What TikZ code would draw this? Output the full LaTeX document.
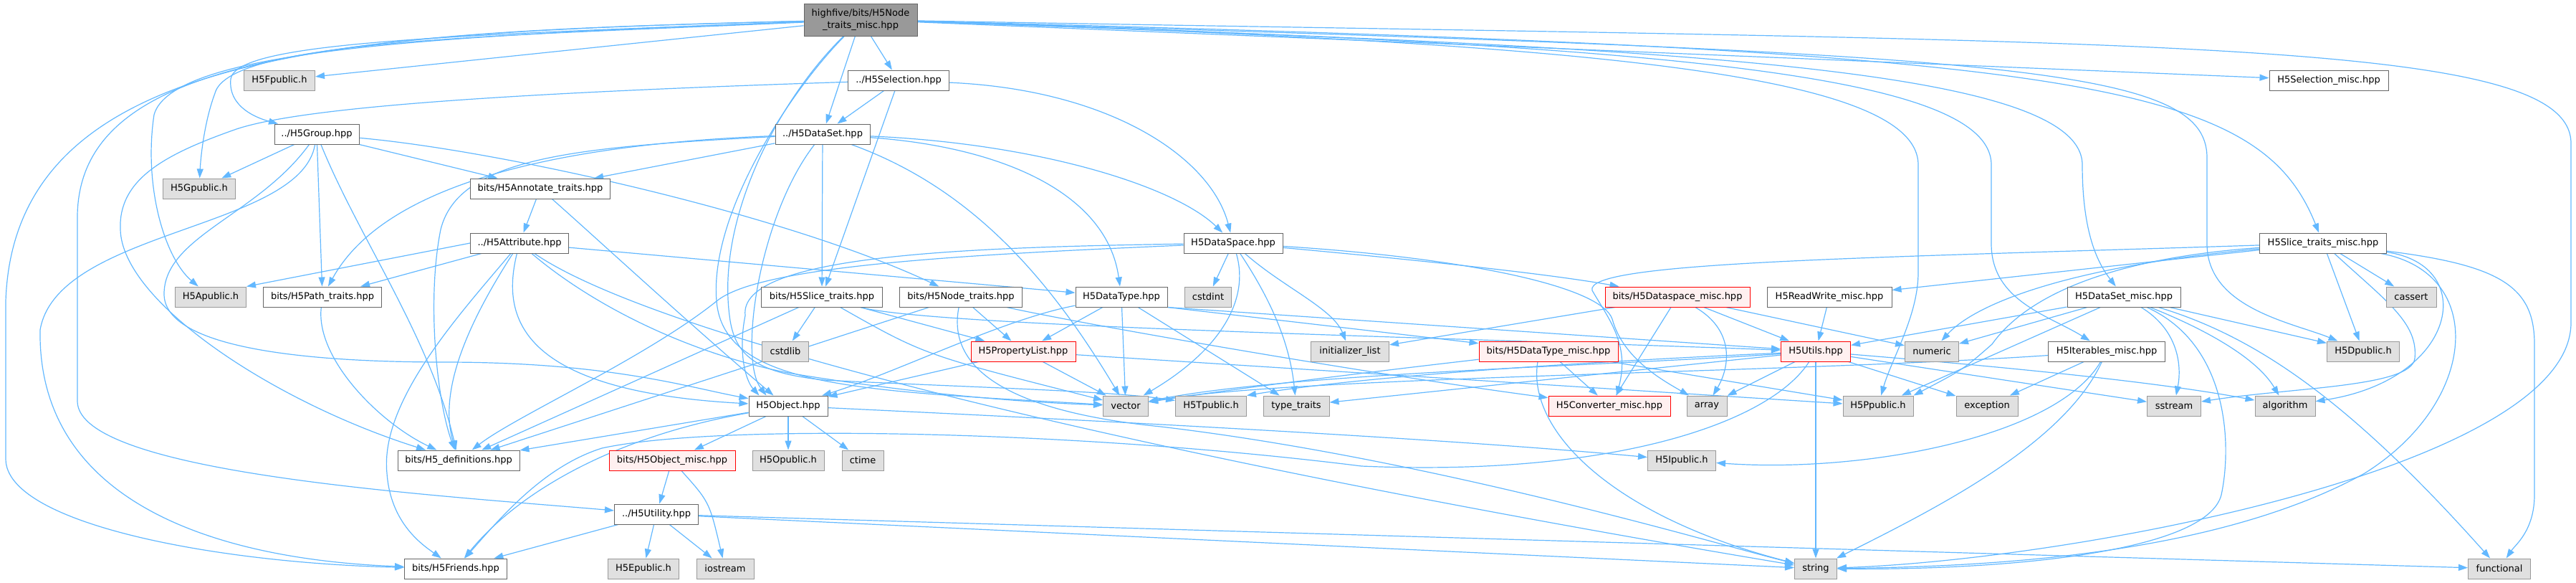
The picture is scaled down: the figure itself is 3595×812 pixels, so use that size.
\documentclass[tikz,border=0pt]{standalone}
\usepackage{fontspec}
\setmainfont{DejaVu Sans}
\usetikzlibrary{arrows.meta}
\definecolor{edgec}{HTML}{63B8FF}
\definecolor{gfill}{HTML}{E0E0E0}
\definecolor{gdraw}{HTML}{999999}
\definecolor{ndraw}{HTML}{666666}
\definecolor{rfill}{HTML}{FFF0F0}
\definecolor{rdraw}{HTML}{FF0000}
\definecolor{rootfill}{HTML}{999999}
\pgfdeclarelayer{bg}
\pgfsetlayers{bg,main}
\tikzset{
 nbox/.style={draw=ndraw,fill=white,line width=1pt,minimum height=28pt,inner sep=0pt,font=\fontsize{13}{17}\selectfont,text=black},
 ext/.style={nbox,fill=gfill,draw=gdraw},
 trunc/.style={nbox,fill=rfill,draw=rdraw},
 edg/.style={draw=edgec,line width=1.2pt,-{Triangle[length=13pt,width=9pt]}}
}
\begin{document}
\begin{tikzpicture}[x=1pt,y=-1pt]
\useasboundingbox (0,0) rectangle (3595,812);
% ---------- nodes ----------
\node[nbox,fill=rootfill,minimum width=158pt,minimum height=45pt,align=center] (R) at (1201,27.5) {highfive/bits/H5Node\\\_traits\_misc.hpp};
\node[ext,minimum width=99pt] (Fpub) at (390,112) {H5Fpublic.h};
\node[nbox,minimum width=141pt] (Sel) at (1254,112) {../H5Selection.hpp};
\node[nbox,minimum width=166pt] (Selmisc) at (3250,112) {H5Selection\_misc.hpp};
\node[nbox,minimum width=118pt] (Group) at (442,187) {../H5Group.hpp};
\node[nbox,minimum width=132pt] (DataSet) at (1148,187) {../H5DataSet.hpp};
\node[ext,minimum width=101pt] (Gpub) at (278,263) {H5Gpublic.h};
\node[nbox,minimum width=195pt] (Annot) at (754,263) {bits/H5Annotate\_traits.hpp};
\node[nbox,minimum width=137pt] (Attr) at (725,339) {../H5Attribute.hpp};
\node[nbox,minimum width=138pt] (DSpace) at (1721,339) {H5DataSpace.hpp};
\node[nbox,minimum width=177pt] (SliceMisc) at (3242,339) {H5Slice\_traits\_misc.hpp};
\node[ext,minimum width=99pt] (Apub) at (294,414) {H5Apublic.h};
\node[nbox,minimum width=165pt] (Path) at (450,414) {bits/H5Path\_traits.hpp};
\node[nbox,minimum width=169pt] (Slice) at (1147,414) {bits/H5Slice\_traits.hpp};
\node[nbox,minimum width=171pt] (Nodet) at (1341,414) {bits/H5Node\_traits.hpp};
\node[nbox,minimum width=128pt] (DType) at (1565,414) {H5DataType.hpp};
\node[ext,minimum width=65pt] (cstdint) at (1686,414) {cstdint};
\node[trunc,minimum width=202pt] (DSmisc) at (2341,414) {bits/H5Dataspace\_misc.hpp};
\node[nbox,minimum width=174pt] (RW) at (2553,414) {H5ReadWrite\_misc.hpp};
\node[nbox,minimum width=158pt] (DSetmisc) at (2964,414) {H5DataSet\_misc.hpp};
\node[ext,minimum width=70pt] (cassert) at (3365,414) {cassert};
\node[ext,minimum width=65pt] (cstdlib) at (1096,490) {cstdlib};
\node[trunc,minimum width=146pt] (PList) at (1428,490) {H5PropertyList.hpp};
\node[ext,minimum width=109pt] (initl) at (1884,490) {initializer\_list};
\node[trunc,minimum width=194pt] (DTmisc) at (2161,490) {bits/H5DataType\_misc.hpp};
\node[trunc,minimum width=97pt] (Utils) at (2534,490) {H5Utils.hpp};
\node[ext,minimum width=75pt] (numeric) at (2696,490) {numeric};
\node[nbox,minimum width=163pt] (Iter) at (2940,490) {H5Iterables\_misc.hpp};
\node[ext,minimum width=101pt] (Dpub) at (3298,490) {H5Dpublic.h};
\node[nbox,minimum width=110pt] (Object) at (1100,566) {H5Object.hpp};
\node[ext,minimum width=63pt] (vector) at (1571,566) {vector};
\node[ext,minimum width=99pt] (Tpub) at (1690,566) {H5Tpublic.h};
\node[ext,minimum width=92pt] (typetr) at (1809,566) {type\_traits};
\node[trunc,minimum width=170pt] (Conv) at (2246,566) {H5Converter\_misc.hpp};
\node[ext,minimum width=56pt] (array) at (2382,566) {array};
\node[ext,minimum width=98pt] (Ppub) at (2621,566) {H5Ppublic.h};
\node[ext,minimum width=86pt] (exception) at (2773,566) {exception};
\node[ext,minimum width=75pt] (sstream) at (3034,566) {sstream};
\node[ext,minimum width=84pt] (algorithm) at (3189,566) {algorithm};
\node[nbox,minimum width=170pt] (defs) at (640,642) {bits/H5\_definitions.hpp};
\node[trunc,minimum width=176pt] (Objmisc) at (938,642) {bits/H5Object\_misc.hpp};
\node[ext,minimum width=100pt] (Opub) at (1100,642) {H5Opublic.h};
\node[ext,minimum width=58pt] (ctime) at (1204,642) {ctime};
\node[ext,minimum width=95pt] (Ipub) at (2347,642) {H5Ipublic.h};
\node[nbox,minimum width=117pt] (Utility) at (916,717) {../H5Utility.hpp};
\node[nbox,minimum width=143pt] (Friends) at (636,793) {bits/H5Friends.hpp};
\node[ext,minimum width=99pt] (Epub) at (898,793) {H5Epublic.h};
\node[ext,minimum width=80pt] (iostream) at (1012,793) {iostream};
\node[ext,minimum width=59pt] (string) at (2534,793) {string};
\node[ext,minimum width=87pt] (functional) at (3488,793) {functional};
% ---------- edges ----------
\begin{pgfonlayer}{bg}
% root
\draw[edg] (R) -- (Fpub);
\draw[edg] (R) -- (Sel);
\draw[edg] (R) -- (Selmisc);
\draw[edg] (R) -- (DataSet);
\draw[edg] (R) .. controls (600,50) and (330,60) .. (322,110) .. controls (318,150) and (360,165) .. (Group);
\draw[edg] (R) .. controls (700,50) and (320,55) .. (300,130) .. controls (285,170) and (280,220) .. (Gpub);
\draw[edg] (R) .. controls (600,50) and (240,70) .. (215,160) .. controls (200,260) and (230,360) .. (Apub);
\draw[edg] (R) .. controls (500,45) and (20,60) .. (8,420) -- (8,640) .. controls (8,730) and (300,785) .. (Friends);
\draw[edg] (R) .. controls (450,45) and (112,80) .. (108,300) -- (108,560) .. controls (110,660) and (600,690) .. (Utility);
\draw[edg] (R) .. controls (1100,130) and (990,300) .. (1000,420) .. controls (1010,540) and (1200,545) .. (vector);
\draw[edg] (R) .. controls (1090,135) and (1000,300) .. (1018,440) .. controls (1025,500) and (1060,520) .. (1150,530) .. controls (1350,540) and (1550,545) .. (Tpub);
\draw[edg] (R) .. controls (2300,65) and (2906,90) .. (2906,230) .. controls (2906,330) and (2930,370) .. (DSetmisc);
\draw[edg] (R) .. controls (2300,62) and (2779,100) .. (2779,230) -- (2779,340) .. controls (2779,420) and (2860,440) .. (Iter);
\draw[edg] (R) .. controls (2200,60) and (2677,100) .. (2677,230) -- (2677,380) .. controls (2677,440) and (2640,500) .. (Ppub);
\draw[edg] (R) .. controls (2900,70) and (3150,110) .. (SliceMisc);
\draw[edg] (R) .. controls (2800,75) and (3080,90) .. (3080,220) -- (3080,340) .. controls (3080,430) and (3200,450) .. (Dpub);
\draw[edg] (R) .. controls (3000,60) and (3588,50) .. (3588,200) -- (3588,450) .. controls (3588,650) and (2900,780) .. (string);
% selection
\draw[edg] (Sel) -- (DataSet);
\draw[edg] (Sel) .. controls (1550,125) and (1690,220) .. (DSpace);
\draw[edg] (Sel) -- (Slice);
\draw[edg] (Sel) .. controls (700,130) and (420,150) .. (330,180) .. controls (230,215) and (165,250) .. (168,320) .. controls (170,420) and (380,560) .. (defs);
% group
\draw[edg] (Group) -- (Gpub);
\draw[edg] (Group) -- (Path);
\draw[edg] (Group) -- (Annot);
\draw[edg] (Group) .. controls (700,210) and (1100,300) .. (Nodet);
\draw[edg] (Group) .. controls (360,300) and (229,330) .. (229,410) .. controls (229,480) and (400,505) .. (620,505) .. controls (850,505) and (960,540) .. (Object);
\draw[edg] (Group) .. controls (420,320) and (80,320) .. (56,460) .. controls (52,700) and (300,780) .. (Friends);
\draw[edg] (Group) .. controls (500,330) and (600,470) .. (defs);
% dataset
\draw[edg] (DataSet) -- (Annot);
\draw[edg] (DataSet) -- (Slice);
\draw[edg] (DataSet) .. controls (1450,200) and (1640,260) .. (DSpace);
\draw[edg] (DataSet) .. controls (1400,205) and (1545,270) .. (DType);
\draw[edg] (DataSet) .. controls (1060,300) and (1030,500) .. ([xshift=25pt]Object.north west);
\draw[edg] (DataSet) .. controls (1350,260) and (1460,380) .. (vector);
\draw[edg] (DataSet) .. controls (800,200) and (540,250) .. (Path);
\draw[edg] (DataSet) .. controls (800,205) and (640,220) .. (615,320) .. controls (595,420) and (610,560) .. (defs);
% annotate / attribute / path
\draw[edg] (Annot) -- (Attr);
\draw[edg] (Annot) .. controls (830,330) and (960,450) .. ([xshift=35pt]Object.north west);
\draw[edg] (Attr.west) -- (Apub.north east);
\draw[edg] (Attr) -- (Path);
\draw[edg] (Attr) -- (DType);
\draw[edg] (Attr) .. controls (700,440) and (720,545) .. (Object);
\draw[edg] (Attr) .. controls (640,440) and (530,560) .. (540,660) .. controls (545,730) and (590,760) .. (Friends);
\draw[edg] (Attr) .. controls (660,440) and (610,540) .. (defs);
\draw[edg] (Attr) .. controls (820,420) and (950,490) .. (1100,520) .. controls (1250,545) and (1400,560) .. (vector);
\draw[edg] (Attr) .. controls (900,460) and (1500,620) .. (string);
\draw[edg] (Path) .. controls (440,500) and (530,590) .. (defs);
% slice traits
\draw[edg] (Slice) -- (cstdlib);
\draw[edg] (Slice) -- (defs);
\draw[edg] (Slice) .. controls (1290,495) .. (vector);
\draw[edg] (Slice) -- (PList);
\draw[edg] (Slice) .. controls (1300,455) and (2000,470) .. (Utils);
% node traits
\draw[edg] (Nodet) -- (PList);
\draw[edg] (Nodet) -- (defs);
\draw[edg] (Nodet) .. controls (1320,520) and (1420,575) .. (1620,595) .. controls (2000,640) and (2400,760) .. (string);
\draw[edg] (Nodet) .. controls (1500,450) and (1900,520) .. (Conv);
% datatype
\draw[edg] (DType) -- (PList);
\draw[edg] (DType) -- (vector);
\draw[edg] (DType) -- (typetr);
\draw[edg] (DType) .. controls (1400,445) and (1250,520) .. (Object);
\draw[edg] (DType.south east) -- (DTmisc);
\draw[edg] (DType.south east) -- (Utils);
% dataspace
\draw[edg] (DSpace) -- (cstdint);
\draw[edg] (DSpace) .. controls (1745,420) and (1700,490) .. (vector);
\draw[edg] (DSpace) .. controls (1790,400) and (1860,430) .. (initl);
\draw[edg] (DSpace) .. controls (1775,420) and (1800,480) .. (typetr);
\draw[edg] (DSpace) .. controls (2050,360) and (2235,400) .. (2250,445) .. controls (2265,500) and (2320,530) .. (array);
\draw[edg] (DSpace) .. controls (1950,360) and (2150,380) .. (DSmisc);
\draw[edg] (DSpace) .. controls (1350,345) and (1030,355) .. (1040,440) .. controls (1030,490) and (1040,530) .. ([xshift=15pt]Object.north west);
\draw[edg] (DSpace) .. controls (1350,355) and (1060,370) .. (1000,420) .. controls (900,500) and (720,580) .. (defs);
% property list
\draw[edg] (PList) -- (vector);
\draw[edg] (PList) -- (Object);
\draw[edg] (PList) -- (Ppub);
% dataspace misc
\draw[edg] (DSmisc) -- (initl);
\draw[edg] (DSmisc) -- (Conv);
\draw[edg] (DSmisc) .. controls (2420,460) and (2415,510) .. (array);
\draw[edg] (DSmisc) -- (Utils);
\draw[edg] (DSmisc) -- (numeric);
% datatype misc
\draw[edg] (DTmisc) -- (Conv);
\draw[edg] ([xshift=-15pt]DTmisc.south) .. controls (2130,600) and (2250,720) .. (string);
\draw[edg] (DTmisc) .. controls (1900,520) and (1700,545) .. (vector);
\draw[edg] (DTmisc) -- (Ppub);
% readwrite
\draw[edg] (RW) -- (Utils);
% utils
\draw[edg] (Utils) -- (string);
\draw[edg] (Utils) -- (exception);
\draw[edg] (Utils) -- (sstream);
\draw[edg] (Utils) .. controls (2900,520) and (3050,540) .. (algorithm);
\draw[edg] (Utils) -- (array);
\draw[edg] (Utils) -- (typetr);
\draw[edg] (Utils) .. controls (2200,505) and (1900,525) .. (Tpub.north east);
\draw[edg] (Utils) .. controls (2250,510) and (1800,520) .. (vector);
\draw[edg] (Utils) .. controls (2470,590) and (2250,665) .. (1900,650) .. controls (1500,600) and (1000,590) .. (840,625) .. controls (760,650) and (700,720) .. (Friends);
% iterables
\draw[edg] (Iter) .. controls (2870,610) and (2600,660) .. (Ipub);
\draw[edg] (Iter) -- (exception);
\draw[edg] (Iter) .. controls (2880,620) and (2700,710) .. (string);
\draw[edg] (Iter) .. controls (2500,520) and (1800,525) .. (vector);
% dataset misc
\draw[edg] (DSetmisc) -- (Utils);
\draw[edg] (DSetmisc) -- (numeric);
\draw[edg] (DSetmisc) -- (Ppub);
\draw[edg] (DSetmisc) -- (Dpub);
\draw[edg] (DSetmisc) .. controls (3040,460) and (3045,510) .. (sstream);
\draw[edg] (DSetmisc) .. controls (3080,460) and (3150,500) .. (algorithm);
\draw[edg] (DSetmisc) .. controls (3150,470) and (3280,560) .. (functional);
\draw[edg] (DSetmisc) .. controls (3110,480) and (3115,620) .. (3100,690) .. controls (3080,770) and (2800,795) .. (string);
% slice traits misc
\draw[edg] (SliceMisc) -- (cassert);
\draw[edg] (SliceMisc) -- (Dpub);
\draw[edg] (SliceMisc) .. controls (3330,420) and (3375,450) .. (3370,500) .. controls (3365,540) and (3200,540) .. (sstream);
\draw[edg] (SliceMisc) .. controls (3460,370) and (3430,530) .. (algorithm);
\draw[edg] (SliceMisc) .. controls (3470,380) and (3460,560) .. (3300,660) .. controls (3100,770) and (2800,790) .. (string);
\draw[edg] (SliceMisc) .. controls (3490,370) and (3537,400) .. (3537,480) -- (3537,690) .. controls (3537,740) and (3510,760) .. (functional);
\draw[edg] (SliceMisc) -- (RW);
\draw[edg] (SliceMisc) .. controls (2900,370) and (2760,420) .. (numeric);
\draw[edg] (SliceMisc) .. controls (2600,360) and (2210,365) .. (2222,405) .. controls (2245,445) and (2275,480) .. ([xshift=10pt]Conv.north);
\draw[edg] (SliceMisc) .. controls (2950,360) and (2830,410) .. (2780,480) .. controls (2740,515) .. (Ppub.north east);
% object
\draw[edg] (Object) -- (defs);
\draw[edg] (Object) .. controls (850,610) and (720,690) .. (Friends);
\draw[edg] (Object) -- (Objmisc);
\draw[edg] (Object) -- (Opub);
\draw[edg] (Object) -- (ctime);
\draw[edg] (Object) .. controls (1500,585) and (2000,610) .. (Ipub);
% object misc / utility
\draw[edg] (Objmisc) -- (Utility);
\draw[edg] (Objmisc) .. controls (990,700) .. (iostream);
\draw[edg] (Utility) -- (Epub);
\draw[edg] (Utility) -- (iostream);
\draw[edg] (Utility) -- (Friends);
\draw[edg] (Utility) -- (functional);
\draw[edg] (Utility) -- (string);
\end{pgfonlayer}
\end{tikzpicture}
\end{document}
